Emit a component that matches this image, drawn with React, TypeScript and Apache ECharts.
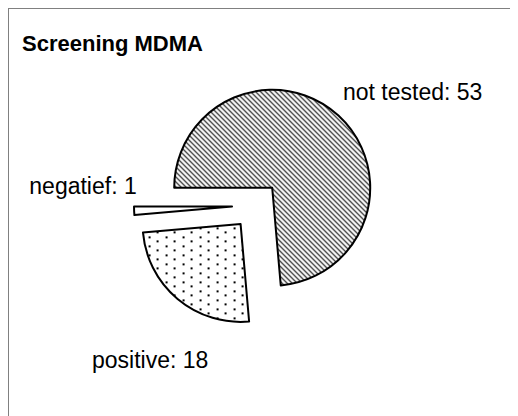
import React, { useEffect, useRef } from "react";
import * as echarts from "echarts";

const categories = ["not tested", "positive", "negatief"];
const values = [53, 18, 1];
const titleText = "Screening MDMA";

function makeHatch(): HTMLCanvasElement {
  const s = 5;
  const c = document.createElement("canvas");
  c.width = s;
  c.height = s;
  const ctx = c.getContext("2d")!;
  ctx.fillStyle = "#ffffff";
  ctx.fillRect(0, 0, s, s);
  ctx.strokeStyle = "#000000";
  ctx.lineWidth = 1.1;
  for (const k of [-s, 0, s]) {
    ctx.beginPath();
    ctx.moveTo(-1, -1 + k);
    ctx.lineTo(s + 1, s + 1 + k);
    ctx.stroke();
  }
  return c;
}

function makeDots(): HTMLCanvasElement {
  const c = document.createElement("canvas");
  c.width = 17;
  c.height = 9;
  const ctx = c.getContext("2d")!;
  ctx.fillStyle = "#ffffff";
  ctx.fillRect(0, 0, 17, 9);
  ctx.fillStyle = "#000000";
  ctx.fillRect(2, 2, 2, 2);
  ctx.fillRect(10, 6, 2, 2);
  return c;
}

const labelPlaces = [
  { x: 334, y: 83, align: "left" },
  { x: 83, y: 351, align: "left" },
  { x: 74, y: 177, align: "center" },
];

export default function App() {
  const ref = useRef<HTMLDivElement>(null);
  useEffect(() => {
    if (!ref.current) return;
    const chart = echarts.init(ref.current, undefined, { renderer: "svg" });
    const fills: any[] = [
      { image: makeHatch(), repeat: "repeat" },
      { image: makeDots(), repeat: "repeat" },
      "#ffffff",
    ];
    const font = "'Liberation Sans', Arial, sans-serif";
    chart.setOption({
      animation: false,
      backgroundColor: "#ffffff",
      title: {
        text: titleText,
        left: 13,
        top: 23,
        padding: 0,
        textStyle: { fontFamily: font, fontWeight: "bold", fontSize: 22, color: "#000" },
      },
      graphic: categories.map((name, i) => ({
        type: "text",
        x: labelPlaces[i].x,
        y: labelPlaces[i].y,
        silent: true,
        style: {
          text: `${name}: ${values[i]}`,
          fontFamily: font,
          fontSize: 23,
          fill: "#000",
          align: labelPlaces[i].align,
          verticalAlign: "middle",
        },
      })),
      series: [
        {
          type: "pie",
          center: [247, 196.5],
          radius: [0, 98],
          startAngle: 180,
          clockwise: true,
          selectedMode: "multiple",
          selectedOffset: 24,
          avoidLabelOverlap: false,
          emphasis: { disabled: true, scale: false },
          label: { show: false },
          labelLine: { show: false },
          data: categories.map((name, i) => ({
            name,
            value: values[i],
            selected: true,
            itemStyle: { color: fills[i], borderColor: "#000", borderWidth: 2 },
            select: { itemStyle: { color: fills[i], borderColor: "#000", borderWidth: 2 } },
          })),
        },
      ],
    });
    return () => chart.dispose();
  }, []);
  return (
    <div
      style={{
        width: 510,
        height: 408,
        overflow: "hidden",
        borderLeft: "1px solid #808080",
        borderTop: "1px solid #808080",
        boxSizing: "border-box",
        background: "#fff",
      }}
    >
      <div ref={ref} style={{ width: 509, height: 407 }} />
    </div>
  );
}
